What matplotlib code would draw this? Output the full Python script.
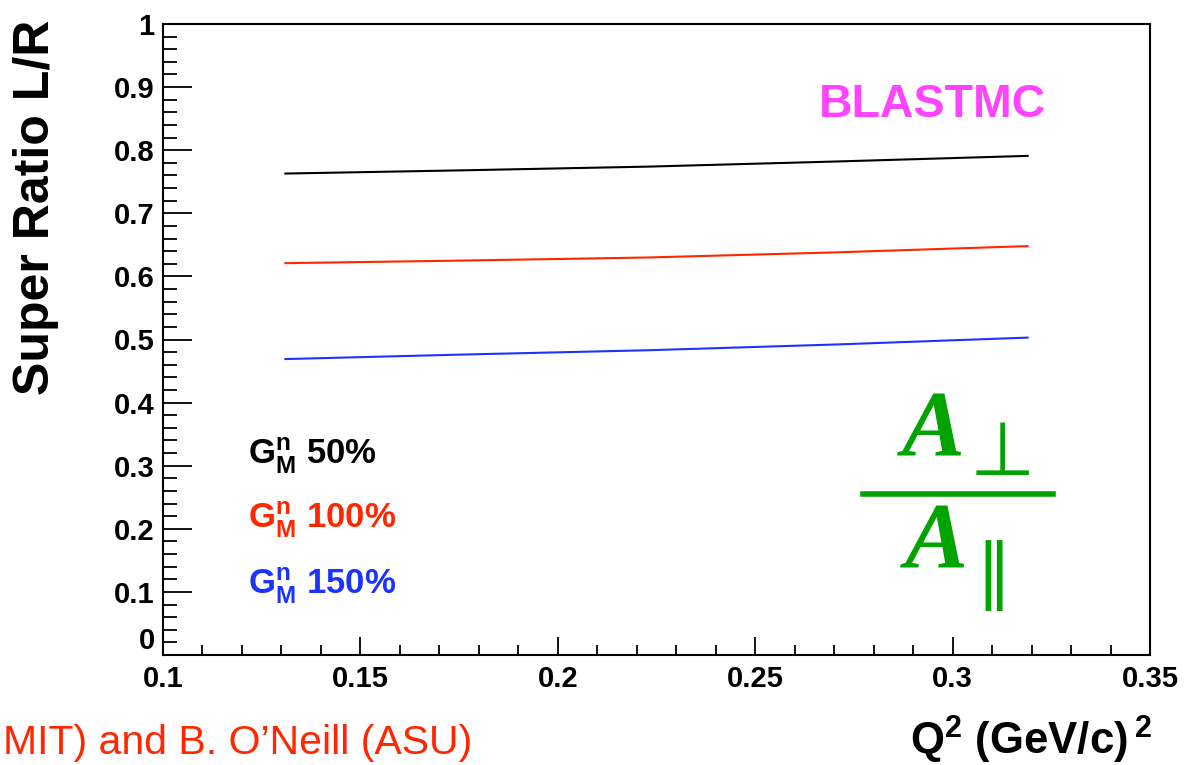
import matplotlib
matplotlib.use("Agg")
import matplotlib.pyplot as plt
from matplotlib.ticker import MultipleLocator, FixedLocator
from matplotlib.lines import Line2D

# ---- data ----
q2 = [0.131, 0.175, 0.223, 0.270, 0.319]
ratio_50 = [0.763, 0.768, 0.774, 0.782, 0.791]
ratio_100 = [0.621, 0.625, 0.630, 0.638, 0.648]
ratio_150 = [0.469, 0.476, 0.483, 0.492, 0.503]
series_labels = ["50%", "100%", "150%"]
xticks = [0.1, 0.15, 0.2, 0.25, 0.3, 0.35]
xtick_labels = ["0.1", "0.15", "0.2", "0.25", "0.3", "0.35"]
yticks = [0, 0.1, 0.2, 0.3, 0.4, 0.5, 0.6, 0.7, 0.8, 0.9, 1.0]
ytick_labels = ["0", "0.1", "0.2", "0.3", "0.4", "0.5", "0.6", "0.7", "0.8", "0.9", "1"]

BLACK = "#000000"
RED = "#ff2600"
BLUE = "#1c33ff"
GREEN = "#00a300"
MAGENTA = "#ff44ff"

plt.rcParams['font.family'] = ['Liberation Sans', 'DejaVu Sans']
plt.rcParams['mathtext.fontset'] = 'custom'
plt.rcParams['mathtext.rm'] = 'Liberation Sans'
plt.rcParams['mathtext.bf'] = 'Liberation Sans:bold'
plt.rcParams['mathtext.it'] = 'Liberation Sans:italic'

W, H = 1190, 765
fig = plt.figure(figsize=(W / 100, H / 100), dpi=100)
L, R, T, B = 163, 1150, 24, 655
ax = fig.add_axes([L / W, 1 - B / H, (R - L) / W, (B - T) / H])

for ys, c in zip([ratio_50, ratio_100, ratio_150], [BLACK, RED, BLUE]):
    ax.plot(q2, ys, color=c, lw=1.5)

ax.set_xlim(0.1, 0.35)
ax.set_ylim(0, 1)
ax.xaxis.set_major_locator(FixedLocator(xticks))
ax.set_xticklabels(xtick_labels)
ax.yaxis.set_major_locator(FixedLocator(yticks))
ax.set_yticklabels(ytick_labels)
ax.xaxis.set_minor_locator(MultipleLocator(0.01))
ax.yaxis.set_minor_locator(MultipleLocator(0.02))
for s in ax.spines.values():
    s.set_linewidth(1.5)
ax.tick_params(axis='both', which='both', direction='in', width=1.3,
               top=False, right=False)
ax.tick_params(axis='y', which='major', length=21, pad=6)
ax.tick_params(axis='y', which='minor', length=10)
ax.tick_params(axis='x', which='major', length=13, pad=7)
ax.tick_params(axis='x', which='minor', length=7)
for lab in ax.get_xticklabels() + ax.get_yticklabels():
    lab.set_fontweight('bold')
    lab.set_fontsize(21)
ax.get_yticklabels()[0].set_va('bottom')

def px(x, y):
    return x / W, 1 - y / H

# y label
fig.text(*px(36, 207), "Super Ratio L/R", rotation=90, ha='center', va='center',
         fontsize=36, fontweight='bold')
# x label
fig.text(*px(1152, 755), r"$\mathbf{Q^{2}}$ (GeV/c)$\,^{\mathbf{2}}$", ha='right',
         va='baseline', fontsize=31.5, fontweight='bold')
# author
fig.text(*px(472, 754), "MIT) and B. O\u2019Neill (ASU)", ha='right', va='baseline',
         fontsize=29.5, color=RED)
# BLASTMC
fig.text(*px(933, 117), "BLASTMC", ha='center', va='baseline', fontsize=33.5,
         fontweight='bold', color=MAGENTA)

# legend-like labels
for lab, c, yb in zip(series_labels, [BLACK, RED, BLUE], [465, 529, 594]):
    fig.text(*px(248, yb), r"$\mathbf{G}^{\mathbf{n}}_{\mathbf{M}}$ " + lab,
             ha='left', va='baseline', fontsize=25, fontweight='bold', color=c)

# fraction
fig.text(*px(933, 456), "A", ha='center', va='baseline', fontsize=68,
         family='Liberation Serif', fontweight='bold', style='italic', color=GREEN)
fig.text(*px(936, 567), "A", ha='center', va='baseline', fontsize=68,
         family='Liberation Serif', fontweight='bold', style='italic', color=GREEN)
fig.text(*px(1002, 475), "\u22a5", ha='center', va='baseline', fontsize=54,
         family='DejaVu Sans', color=GREEN)
fig.text(*px(993, 596), "\u2225", ha='center', va='baseline', fontsize=52,
         family='DejaVu Sans', color=GREEN)
fig.add_artist(Line2D([863 / W, 1053 / W], [1 - 494 / H, 1 - 494 / H],
                      color=GREEN, lw=4, transform=fig.transFigure))

fig.savefig("out.png", dpi=100)
